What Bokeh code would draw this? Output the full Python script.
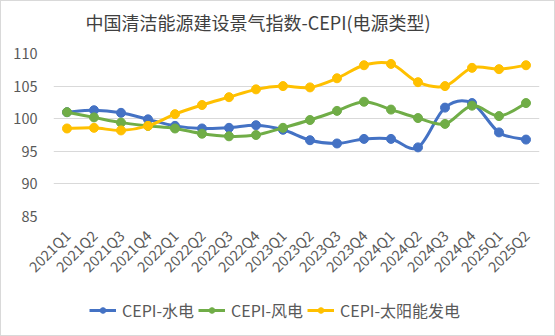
import numpy as np
from bokeh.plotting import figure
from bokeh.layouts import column
from bokeh.models import ColumnDataSource, Legend, LegendItem, FixedTicker
from bokeh.embed import file_html
from bokeh.resources import INLINE

quarters = ["2021Q1", "2021Q2", "2021Q3", "2021Q4", "2022Q1", "2022Q2", "2022Q3", "2022Q4",
            "2023Q1", "2023Q2", "2023Q3", "2023Q4", "2024Q1", "2024Q2", "2024Q3", "2024Q4",
            "2025Q1", "2025Q2"]
hydro = [101.0, 101.3, 100.9, 99.9, 98.9, 98.5, 98.6, 99.0, 98.3, 96.7, 96.2, 96.9, 96.9, 95.6,
         101.7, 102.4, 97.9, 96.8]
wind = [101.0, 100.2, 99.4, 98.9, 98.5, 97.7, 97.3, 97.5, 98.6, 99.8, 101.2, 102.6, 101.4, 100.1,
        99.2, 102.0, 100.4, 102.4]
solar = [98.5, 98.6, 98.2, 98.9, 100.7, 102.1, 103.3, 104.5, 105.0, 104.8, 106.2, 108.2, 108.4,
         105.6, 105.0, 107.8, 107.6, 108.2]
series_names = ["CEPI-水电", "CEPI-风电", "CEPI-太阳能发电"]
series_colors = ["#4472C4", "#70AD47", "#FFC000"]
y_ticks = [85, 90, 95, 100, 105, 110]
title_text = "中国清洁能源建设景气指数-CEPI(电源类型)"

FONT = "Noto Sans CJK SC"

# title strip
pt = figure(width=553, height=37, output_backend="svg", toolbar_location=None,
            x_axis_location=None, y_axis_location=None,
            min_border_left=0, min_border_right=0, min_border_top=35, min_border_bottom=0,
            title=title_text)
pt.outline_line_color = None
pt.xgrid.grid_line_color = None
pt.ygrid.grid_line_color = None
pt.background_fill_color = "white"
pt.border_fill_color = "white"
pt.title.align = "left"
pt.title.offset = 32
pt.title.standoff = 4
pt.title.text_font = FONT
pt.title.text_font_size = "18px"
pt.title.text_font_style = "normal"
pt.title.text_color = "#404040"

p = figure(width=553, height=252, output_backend="svg", toolbar_location=None,
           x_range=(-0.5, len(quarters) - 0.5), y_range=(85, 110),
           min_border_left=52, min_border_right=15, min_border_top=15, min_border_bottom=74)

p.outline_line_color = None
p.background_fill_color = "white"
p.border_fill_color = "white"

p.xgrid.grid_line_color = None
p.ygrid.grid_line_color = "#d9d9d9"
p.ygrid.grid_line_width = 1
p.yaxis.ticker = FixedTicker(ticks=y_ticks)
p.xaxis.ticker = FixedTicker(ticks=list(range(len(quarters))))
p.xaxis.major_label_overrides = {i: q for i, q in enumerate(quarters)}
p.xaxis.major_label_orientation = np.pi / 4

for ax in (p.xaxis[0], p.yaxis[0]):
    ax.axis_line_color = None
    ax.major_tick_line_color = None
    ax.minor_tick_line_color = None
    ax.major_label_text_font = FONT
    ax.major_label_text_font_size = "14.5px"
    ax.major_label_text_color = "#595959"
p.yaxis.major_label_standoff = 10
p.xaxis.major_label_standoff = 10


def smooth_source(vals):
    x = np.arange(len(vals), dtype=float)
    y = np.array(vals, dtype=float)
    xp = np.concatenate([[x[0]], x, [x[-1]]])
    yp = np.concatenate([[y[0]], y, [y[-1]]])
    t = 1.0 / 6.0
    x0, y0 = x[:-1], y[:-1]
    x1, y1 = x[1:], y[1:]
    cx0 = xp[1:-2] + (xp[2:-1] - xp[0:-3]) * t
    cy0 = yp[1:-2] + (yp[2:-1] - yp[0:-3]) * t
    cx1 = xp[2:-1] - (xp[3:] - xp[1:-2]) * t
    cy1 = yp[2:-1] - (yp[3:] - yp[1:-2]) * t
    return ColumnDataSource(dict(x0=x0, y0=y0, x1=x1, y1=y1, cx0=cx0, cy0=cy0, cx1=cx1, cy1=cy1))


# legend strip below the chart
pl = figure(width=553, height=45, output_backend="svg", toolbar_location=None,
            x_range=(-0.5, len(quarters) - 0.5), y_range=(85, 110),
            x_axis_location=None, y_axis_location=None,
            min_border_left=0, min_border_right=0, min_border_top=0, min_border_bottom=0)
pl.outline_line_color = None
pl.xgrid.grid_line_color = None
pl.ygrid.grid_line_color = None
pl.background_fill_color = "white"
pl.border_fill_color = "white"

items = []
for vals, name, color in zip([hydro, wind, solar], series_names, series_colors):
    src = smooth_source(vals)
    p.bezier(x0="x0", y0="y0", x1="x1", y1="y1", cx0="cx0", cy0="cy0", cx1="cx1", cy1="cy1",
             source=src, line_color=color, line_width=3, line_cap="round")
    pts = ColumnDataSource(dict(x=list(range(len(vals))), y=vals))
    p.scatter("x", "y", source=pts, size=9, fill_color=color, line_color=color)
    ln = pl.line("x", "y", source=pts, line_color=color, line_width=3, visible=False)
    sc = pl.scatter("x", "y", source=pts, size=8, fill_color=color, line_color=color, visible=False)
    items.append(LegendItem(label=name, renderers=[ln, sc]))

legend = Legend(items=items, orientation="horizontal", location=(36, 13),
                label_text_font=FONT, label_text_font_size="16px", label_text_color="#595959",
                glyph_width=27, glyph_height=14, spacing=4, label_standoff=6,
                border_line_color=None, background_fill_alpha=0, padding=2, margin=0,
                inactive_fill_alpha=0)
pl.add_layout(legend)

layout = column(pt, p, pl, spacing=0,
                styles={"border": "1px solid #d9d9d9"})
open("out.html", "w").write(file_html(layout, INLINE))
